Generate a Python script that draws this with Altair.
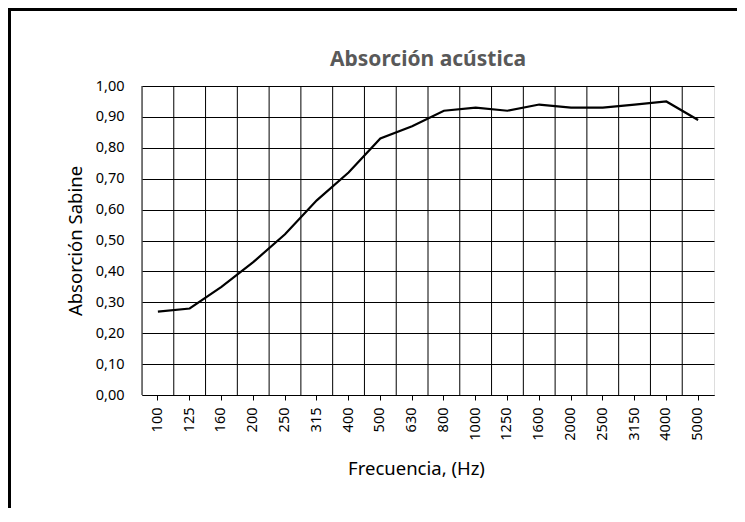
import altair as alt
import pandas as pd

freqs = ["100", "125", "160", "200", "250", "315", "400", "500", "630", "800",
         "1000", "1250", "1600", "2000", "2500", "3150", "4000", "5000"]
absorption = [0.27, 0.28, 0.35, 0.43, 0.52, 0.63, 0.72, 0.83, 0.87, 0.92,
              0.93, 0.92, 0.94, 0.93, 0.93, 0.94, 0.95, 0.89]
y_ticks = [0.0, 0.1, 0.2, 0.3, 0.4, 0.5, 0.6, 0.7, 0.8, 0.9, 1.0]
title_text = "Absorción acústica"

df = pd.DataFrame({"freq": freqs, "abs": absorption})

FONT = "Noto Sans"
x_scale = alt.Scale(domain=freqs, paddingInner=0, paddingOuter=0)
y_scale = alt.Scale(domain=[0, 1], nice=False)

x_axis = alt.Axis(
    title="Frecuencia, (Hz)", labelAngle=270, labelFontSize=14.5, labelFont=FONT,
    labelColor="black", titleFont=FONT, titleFontSize=18.5, titleFontWeight="normal",
    titleColor="black", titlePadding=19, titleX=274, titleAlign="center",
    grid=False, ticks=True, tickSize=5,
    tickColor="black", domainColor="black", labelPadding=7,
)
y_axis = alt.Axis(
    title="Absorción Sabine", values=y_ticks,
    labelExpr="replace(format(datum.value, '.2f'), '.', ',')",
    labelFontSize=14.5, labelFont=FONT, labelColor="black",
    titleFont=FONT, titleFontSize=18.5, titleFontWeight="normal", titleColor="black",
    titlePadding=10, grid=True, gridColor="black", gridOpacity=1, gridWidth=1,
    ticks=False, labelPadding=18, domain=False,
)

vgrid = alt.Chart(df).mark_rule(color="black", strokeWidth=1).encode(
    x=alt.X("freq:N", bandPosition=0, scale=x_scale, sort=freqs, axis=x_axis),
)

line = alt.Chart(df).mark_line(color="black", strokeWidth=2.2).encode(
    x=alt.X("freq:N", scale=x_scale, sort=freqs, axis=x_axis),
    y=alt.Y("abs:Q", scale=y_scale, axis=y_axis),
)

one = pd.DataFrame({"a": [0]})

frame = alt.Chart(one).mark_rect(
    stroke="black", strokeWidth=3, fillOpacity=0
).encode(
    x=alt.value(-132.5), x2=alt.value(900), y=alt.value(-76.5), y2=alt.value(700)
)

title = alt.Chart(one).mark_text(
    text=title_text, font=FONT, fontSize=21, fontWeight="bold", color="#595959",
    align="center", baseline="alphabetic",
).encode(x=alt.value(286), y=alt.value(-20))

chart = alt.layer(vgrid, line, frame, title).properties(
    width=572, height=309,
    autosize=alt.AutoSizeParams(type="none"),
    padding={"left": 134, "top": 78, "right": 23, "bottom": 113},
).configure_view(stroke="black", strokeWidth=1).configure(background="white")

chart.save("out.html", embed_options={"renderer": "svg", "actions": False})
